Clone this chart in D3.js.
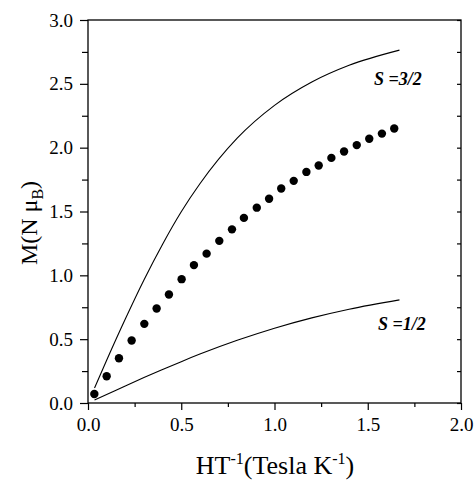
<!DOCTYPE html>
<html>
<head>
<meta charset="utf-8">
<script src="https://cdn.jsdelivr.net/npm/d3@7"></script>
<style>
  body { margin: 0; background: #fff; }
  text { font-family: "Liberation Serif", "Times New Roman", serif; fill: #000; }
</style>
</head>
<body>
<div id="chart"></div>
<script>
// measured points (H/T, M)
var dotH = [0.034, 0.100, 0.166, 0.234, 0.302, 0.368, 0.434, 0.502, 0.568, 0.636, 0.704, 0.772, 0.836,
            0.905, 0.971, 1.036, 1.103, 1.171, 1.237, 1.305, 1.373, 1.441, 1.508, 1.576, 1.642];
var dotM = [0.07, 0.21, 0.35, 0.49, 0.62, 0.74, 0.85, 0.97, 1.08, 1.17, 1.27, 1.36, 1.45,
            1.53, 1.60, 1.68, 1.74, 1.81, 1.86, 1.92, 1.97, 2.02, 2.07, 2.11, 2.15];

// the two solid curves
var curveH = [0.035, 0.1, 0.2, 0.3, 0.4, 0.5, 0.6, 0.8, 1.0, 1.2, 1.4, 1.67];
var s32M = [0.117, 0.335, 0.658, 0.964, 1.244, 1.498, 1.717, 2.074, 2.331, 2.514, 2.645, 2.764];
var s12M = [0.024, 0.067, 0.134, 0.199, 0.262, 0.324, 0.383, 0.491, 0.586, 0.667, 0.735, 0.808];

var xTicks = [0.0, 0.5, 1.0, 1.5, 2.0];
var yTicks = [0.0, 0.5, 1.0, 1.5, 2.0, 2.5, 3.0];
var xMinor = [0.25, 0.75, 1.25, 1.75];
var yMinor = [0.25, 0.75, 1.25, 1.75, 2.25, 2.75];

var serif = "'Liberation Serif', 'Times New Roman', serif";

var W = 474, H = 481;
var svg = d3.select("#chart").append("svg")
    .attr("width", W)
    .attr("height", H);

var x = d3.scaleLinear().domain([0, 2]).range([88, 461]);
var y = d3.scaleLinear().domain([0, 3]).range([403, 20]);

// frame
svg.append("rect")
    .attr("x", x(0)).attr("y", y(3))
    .attr("width", x(2) - x(0)).attr("height", y(0) - y(3))
    .attr("fill", "none").attr("stroke", "#000").attr("stroke-width", 1.3);

// axes
var axes = [];
axes.push(svg.append("g")
    .attr("transform", "translate(0," + y(0) + ")")
    .call(d3.axisBottom(x).tickValues(xTicks).tickSize(7).tickPadding(8)
        .tickFormat(d3.format(".1f"))));
axes.push(svg.append("g")
    .attr("transform", "translate(0," + y(0) + ")")
    .call(d3.axisBottom(x).tickValues(xMinor).tickSize(4).tickFormat("")));
axes.push(svg.append("g")
    .attr("transform", "translate(" + x(0) + ",0)")
    .call(d3.axisLeft(y).tickValues(yTicks).tickSize(8).tickPadding(7)
        .tickFormat(d3.format(".1f"))));
axes.push(svg.append("g")
    .attr("transform", "translate(" + x(0) + ",0)")
    .call(d3.axisLeft(y).tickValues(yMinor).tickSize(6).tickFormat("")));
// small inward ticks on the right side
axes.push(svg.append("g")
    .attr("transform", "translate(" + x(2) + ",0)")
    .call(d3.axisLeft(y).tickValues(yTicks.concat(yMinor)).tickSize(4).tickFormat("")));

axes.forEach(function(g) {
    g.attr("font-family", serif).attr("font-size", 19);
    g.select(".domain").remove();
});
svg.selectAll(".tick line").attr("stroke", "#000").attr("stroke-width", 1.2);
svg.selectAll(".tick text")
    .attr("fill", "#000")
    .style("font-family", serif)
    .style("font-size", "19px");

// curves
var line = d3.line()
    .x(function(d) { return x(d[0]); })
    .y(function(d) { return y(d[1]); })
    .curve(d3.curveMonotoneX);

svg.append("path")
    .datum(curveH.map(function(h, i) { return [h, s32M[i]]; }))
    .attr("d", line)
    .attr("fill", "none").attr("stroke", "#000").attr("stroke-width", 1.1);

svg.append("path")
    .datum(curveH.map(function(h, i) { return [h, s12M[i]]; }))
    .attr("d", line)
    .attr("fill", "none").attr("stroke", "#000").attr("stroke-width", 1.1);

// dots
svg.selectAll("circle.pt")
    .data(dotH.map(function(h, i) { return [h, dotM[i]]; }))
    .enter()
    .append("circle")
    .attr("class", "pt")
    .attr("cx", function(d) { return x(d[0]); })
    .attr("cy", function(d) { return y(d[1]); })
    .attr("r", 4.2)
    .attr("fill", "#000");

// curve labels
svg.append("text")
    .attr("x", 374).attr("y", 85)
    .style("font-family", serif)
    .style("font-size", "18px").style("font-style", "italic").style("font-weight", "bold")
    .text("S =3/2");
svg.append("text")
    .attr("x", 378).attr("y", 330)
    .style("font-family", serif)
    .style("font-size", "18px").style("font-style", "italic").style("font-weight", "bold")
    .text("S =1/2");

// x title
var xt = svg.append("text")
    .attr("x", 275).attr("y", 474)
    .attr("text-anchor", "middle")
    .style("font-family", serif)
    .style("font-size", "26px");
xt.append("tspan").text("HT");
xt.append("tspan").attr("dy", -10).style("font-size", "16px").text("-1");
xt.append("tspan").attr("dy", 10).text("(Tesla K");
xt.append("tspan").attr("dy", -10).style("font-size", "16px").text("-1");
xt.append("tspan").attr("dy", 10).text(")");

// y title
var yt = svg.append("text")
    .attr("transform", "translate(37,223) rotate(-90)")
    .attr("text-anchor", "middle")
    .style("font-family", serif)
    .style("font-size", "24px");
yt.append("tspan").text("M(N \u03bc");
yt.append("tspan").attr("dy", 6).style("font-size", "16px").text("B");
yt.append("tspan").attr("dy", -6).text(")");
</script>
</body>
</html>
